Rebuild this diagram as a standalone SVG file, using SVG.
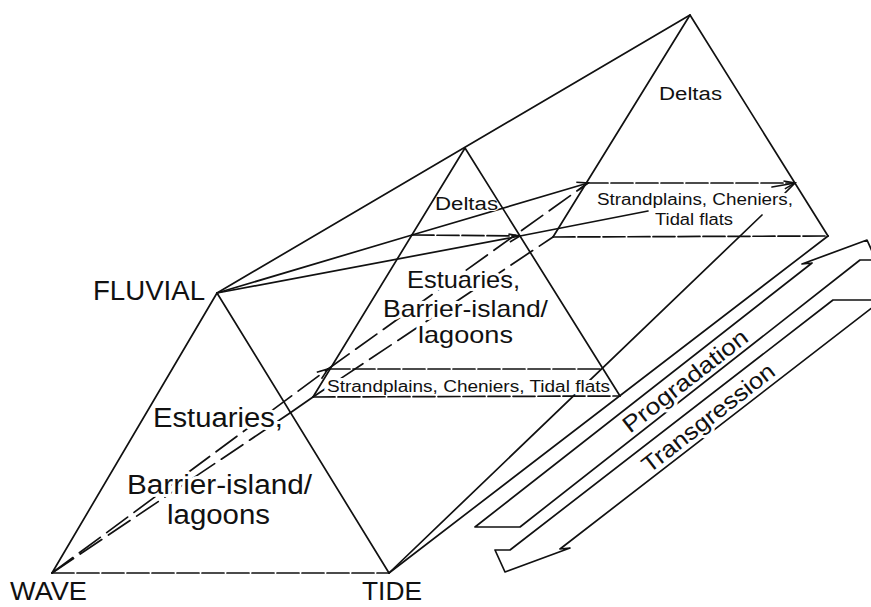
<svg xmlns="http://www.w3.org/2000/svg" width="871" height="607" viewBox="0 0 871 607">
<style>
.ln{fill:none;stroke:#111;stroke-width:1.7;stroke-linecap:round;stroke-linejoin:round}
.hz{stroke-dasharray:22 3}
.hid{stroke-dasharray:26 8}
.lbl{font-family:"Liberation Sans",Arial,Helvetica,sans-serif;fill:#111;stroke:#fff;stroke-width:6;stroke-linejoin:round;paint-order:stroke}
.nh{stroke-width:2}
.plain{stroke:none}
.big{font-size:27px}
.corner{font-size:26px}
.mid{font-size:24px}
.sm{font-size:16px}
.dl{font-size:18px}
.arr{font-size:23px}
</style>
<defs>
<marker id="ah" markerUnits="userSpaceOnUse" markerWidth="14" markerHeight="10" refX="12" refY="5" orient="auto">
<path d="M1,1 L12,5 L1,9" fill="none" stroke="#111" stroke-width="1.6"/>
</marker>
</defs>
<rect width="871" height="607" fill="#fff"/>

<g id="connectors">
<path class="ln" d="M217,293 L690,15"/>
<path class="ln" d="M389,573 L828,236"/>
<path class="ln hid" d="M52,573 L290,413"/>
<path class="ln" d="M290,413 L313,397"/>
<path class="ln hid" d="M313,397 L553,237"/>
<path class="ln hid" d="M52,573 L328,369" marker-end="url(#ah)"/>
<path class="ln hid" d="M328,369 L588,183"/>
<path class="ln" d="M217,293 L412,235"/>
<path class="ln" d="M412,235 L588,183" marker-end="url(#ah)"/>
<path class="ln" d="M217,293 L520,236" marker-end="url(#ah)"/>
<path class="ln" d="M520,236 L648,211"/>
<path class="ln" d="M772,187 L795,183" marker-end="url(#ah)"/>
<path class="ln" d="M389,573 L762,215"/>
<path class="ln" d="M785,193 L795,183"/>
</g>

<g id="front-triangle">
<text class="lbl big" x="153" y="427" textLength="130" lengthAdjust="spacingAndGlyphs">Estuaries,</text>
<text class="lbl big" x="127" y="494" textLength="185" lengthAdjust="spacingAndGlyphs">Barrier-island/</text>
<text class="lbl big" x="167" y="524" textLength="103" lengthAdjust="spacingAndGlyphs">lagoons</text>
<path class="ln" d="M52,573 L217,293 L389,573"/>
<path class="ln hz" d="M52,573 L389,573"/>
</g>

<g id="middle-triangle">
<text class="lbl dl nh" x="435" y="210" textLength="63" lengthAdjust="spacingAndGlyphs">Deltas</text>
<text class="lbl mid" x="407" y="288" textLength="113" lengthAdjust="spacingAndGlyphs">Estuaries,</text>
<text class="lbl mid" x="383" y="317" textLength="165" lengthAdjust="spacingAndGlyphs">Barrier-island/</text>
<text class="lbl mid" x="418" y="343" textLength="95" lengthAdjust="spacingAndGlyphs">lagoons</text>
<text class="lbl sm" x="327" y="392" textLength="283" lengthAdjust="spacingAndGlyphs">Strandplains, Cheniers, Tidal flats</text>
<path class="ln" d="M313,397 L465,148 L620,396"/>
<path class="ln hz" d="M412,235 L520,236"/>
<path class="ln hz" d="M328,369 L603,369"/>
<path class="ln hz" d="M313,397 L620,396"/>
</g>

<g id="back-triangle">
<text class="lbl dl" x="659" y="100" textLength="63" lengthAdjust="spacingAndGlyphs">Deltas</text>
<text class="lbl sm" x="597" y="205" textLength="196" lengthAdjust="spacingAndGlyphs">Strandplains, Cheniers,</text>
<text class="lbl sm" x="655" y="225" textLength="78" lengthAdjust="spacingAndGlyphs">Tidal flats</text>
<path class="ln" d="M553,237 L690,15 L828,236"/>
<path class="ln hz" d="M586,183 L795,183"/>
<path class="ln hz" d="M553,237 L828,236"/>
</g>

<g id="end-labels">
<text class="lbl big" x="93" y="300" textLength="112" lengthAdjust="spacingAndGlyphs">FLUVIAL</text>
<text class="lbl corner plain" x="10" y="600" textLength="77" lengthAdjust="spacingAndGlyphs">WAVE</text>
<text class="lbl corner plain" x="362" y="600" textLength="60" lengthAdjust="spacingAndGlyphs">TIDE</text>
</g>

<g id="progradation-arrow">
<path class="ln" d="M812,263 L475,527 L520,527 L860,260 L876,260 L867,240 L802,264 L812,263"/>
<text class="lbl arr" x="0" y="0" text-anchor="middle" textLength="152" lengthAdjust="spacingAndGlyphs" transform="translate(690,387) rotate(-38)">Progradation</text>
</g>

<g id="transgression-arrow">
<path class="ln" d="M833,300 L882,300 L560,549 L570,548 L505,572 L495,550 L510,550 Z"/>
<text class="lbl arr" x="0" y="0" text-anchor="middle" textLength="162" lengthAdjust="spacingAndGlyphs" transform="translate(713,424) rotate(-38)">Transgression</text>
</g>
</svg>
